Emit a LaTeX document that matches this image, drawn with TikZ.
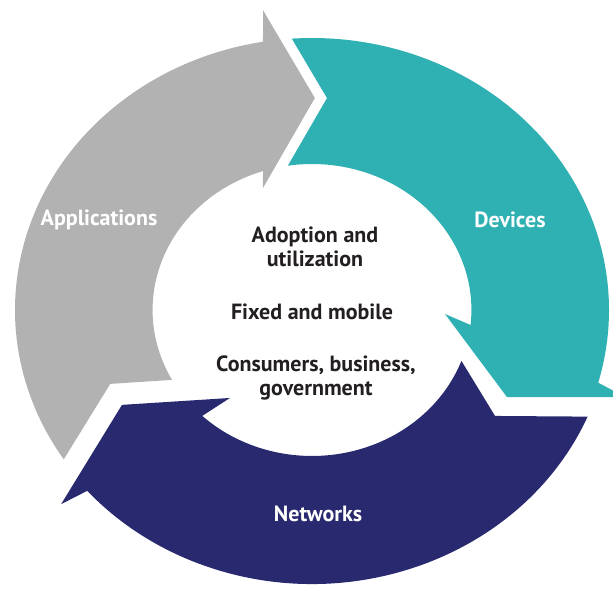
\documentclass[tikz,border=0pt]{standalone}
\usepackage{fontspec}
\setmainfont{PT Sans}
\usetikzlibrary{calc}

\definecolor{appgray}{RGB}{178,178,178}
\definecolor{devteal}{RGB}{47,176,179}
\definecolor{netnavy}{RGB}{41,41,112}
\definecolor{textdark}{RGB}{35,31,32}

\begin{document}
\begin{tikzpicture}[x=1pt,y=1pt,
    ringlabel/.style={text=white,font=\bfseries\fontsize{22}{24}\selectfont},
    centrelabel/.style={text=textdark,align=center,font=\bfseries\fontsize{22}{24}\selectfont}]
  \useasboundingbox (0,0) rectangle (613,589);

  % the three arrows of the ring
  \begin{scope}[shift={(312,279)},xscale=1.092]
    % applications
    \fill[appgray] (213.3:272) arc[start angle=213.3,end angle=99.5,radius=272]
      -- (98.5:303) -- (89.3:212) -- (110.2:130) -- (107.9:146)
      arc[start angle=107.9,end angle=208.6,radius=146]
      -- (201.8:199) -- cycle;
    % devices
    \fill[devteal] (93.9:272) arc[start angle=93.9,end angle=-15.5,radius=272]
      -- (-16.9:300) -- (-26:198.7) -- (-1.9:121.9) -- (-5.9:146)
      arc[start angle=-5.9,end angle=98.7,radius=146]
      -- (86.3:212.4) -- cycle;
    % networks
    \fill[netnavy] (-22.9:274) arc[start angle=-22.9,end angle=-138.7,radius=274]
      -- (220.2:300.8) -- (208.6:198.2) -- (229.5:115.7) -- (226.5:146)
      arc[start angle=226.5,end angle=339.6,radius=146]
      -- (-32.3:198.3) -- cycle;
  \end{scope}

  % labels
  \node[ringlabel] (apps) at (99,369) {Applications};
  \node[ringlabel] (devs) at (510,369) {Devices};
  \node[ringlabel] (nets) at (318,75) {Networks};

  \node[centrelabel] (adopt) at (315,342) {Adoption and\\utilization};
  \node[centrelabel] (fixed) at (312,277) {Fixed and mobile};
  \node[centrelabel] (users) at (316,211) {Consumers, business,\\government};
\end{tikzpicture}
\end{document}
